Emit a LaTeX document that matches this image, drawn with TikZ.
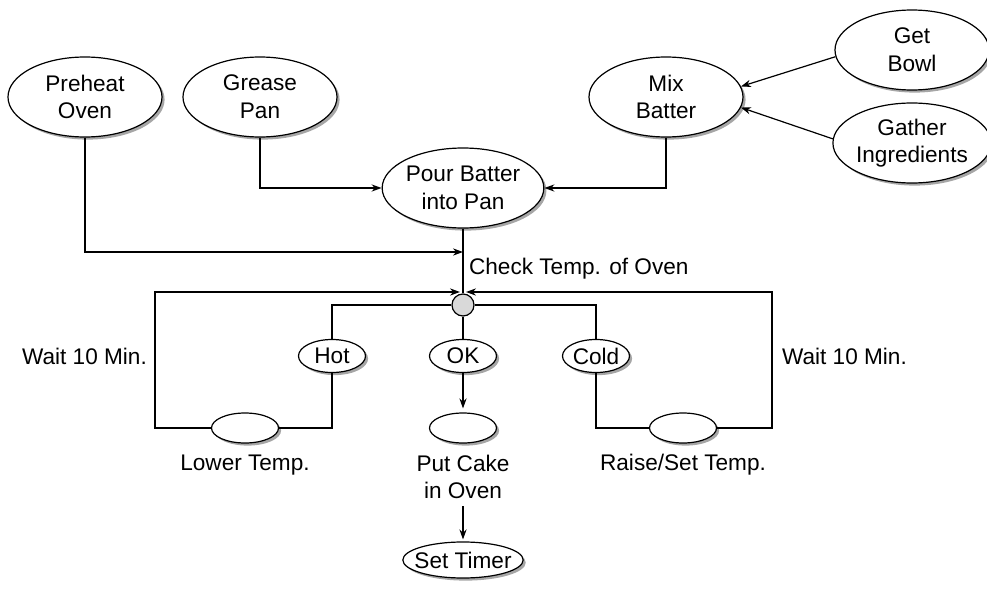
\documentclass[tikz,border=0pt]{standalone}
\usepackage{fontspec}
\setmainfont{Liberation Sans}
\usetikzlibrary{arrows.meta,shapes.geometric,shadows}

\tikzset{
  task/.style={ellipse, draw, fill=white, line width=0.6pt, inner sep=0pt, align=center,
    drop shadow={shadow xshift=1.3pt, shadow yshift=-1.3pt, fill=gray!70, opacity=1}},
  bigtask/.style={task, minimum width=77pt, minimum height=40pt},
  smalltask/.style={task, minimum width=33.5pt, minimum height=16.5pt},
  blanktask/.style={task, minimum width=33.5pt, minimum height=15pt},
  flow/.style={-{Stealth[length=5pt,width=3.6pt]}, line width=0.6pt},
  link/.style={line width=0.6pt},
}

\begin{document}
\begin{tikzpicture}[x=0.5pt,y=-0.5pt, font=\fontsize{11.3}{13.8}\selectfont]
  \useasboundingbox (0,0) rectangle (987,589);

  % top row of tasks
  \node[bigtask] (preheat) at (85,97) {Preheat\\Oven};
  \node[bigtask] (grease) at (260,97) {Grease\\Pan};
  \node[bigtask] (mix) at (666,97) {Mix\\Batter};
  \node[bigtask] (bowl) at (912,50) {Get\\Bowl};
  \node[bigtask] (gather) at (912,143) {Gather\\Ingredients};
  \node[bigtask] (pour) at (463,188) {Pour Batter\\into Pan};

  % temperature check
  \node[circle, draw, fill=gray!30, minimum size=11pt, inner sep=0pt, line width=0.6pt] (check) at (463,305) {};
  \node[anchor=west] (checklabel) at (462,269) {Check Temp. of Oven};
  \node[smalltask] (hot) at (332,356) {Hot};
  \node[smalltask] (ok) at (463,356) {OK};
  \node[smalltask] (cold) at (596,356) {Cold};
  \node[blanktask] (lower) at (245,428) {};
  \node[blanktask] (put) at (463,428) {};
  \node[blanktask] (raise) at (683,428) {};
  \node (lowerlabel) at (245,465) {Lower Temp.};
  \node[align=center] (putlabel) at (463,477) {Put Cake\\in Oven};
  \node (raiselabel) at (683,465) {Raise/Set Temp.};
  \node[task, minimum width=60pt, minimum height=18pt, inner xsep=-3pt] (timer) at (463,560) {Set Timer};
  \node[anchor=west] (waitleft) at (15,356) {Wait 10 Min.};
  \node[anchor=west] (waitright) at (775,356) {Wait 10 Min.};

  \coordinate (pourin) at (463,252);
  \coordinate (loopin) at (463,292);
  \coordinate (leftbend) at (155,292);
  \coordinate (rightbend) at (772,292);

  % connectors
  \draw[flow] (bowl.185) -- (mix.8);
  \draw[flow] (gather.177) -- (mix.-8);
  \draw[flow] (mix.south) |- (pour.east);
  \draw[flow] (grease.south) |- (pour.west);
  \draw[flow] (preheat.south) |- (pourin);
  \draw[link] (pour.south) -- (check.north);

  \draw[link] (check.west) -| (hot.north);
  \draw[link] (hot.south) |- (lower.east);
  \draw[flow, shorten >=1.5pt] (lower.west) -| (leftbend) -- (loopin);
  \draw[link] (check.east) -| (cold.north);
  \draw[link] (cold.south) |- (raise.west);
  \draw[flow, shorten >=1.5pt] (raise.east) -| (rightbend) -- (loopin);

  \draw[link] (check.south) -- (ok.north);
  \draw[flow, shorten >=2pt] (ok.south) -- (put.north);
  \draw[flow, shorten >=1pt] (putlabel.south) -- (timer.north);
\end{tikzpicture}
\end{document}
